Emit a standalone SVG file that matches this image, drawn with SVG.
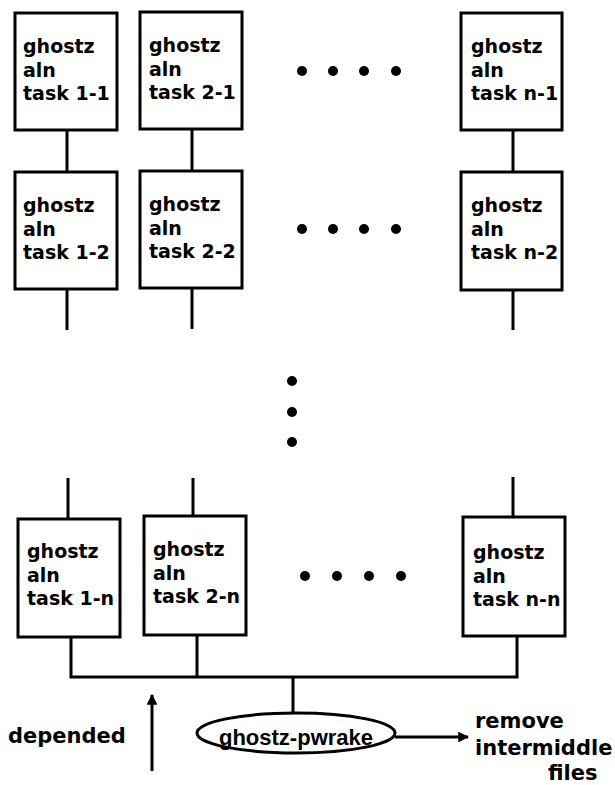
<svg xmlns="http://www.w3.org/2000/svg" width="615" height="785" viewBox="0 0 615 785">
  <style>
    .box { fill: #fff; stroke: #000; stroke-width: 3; }
    .wire { fill: none; stroke: #000; stroke-width: 3; }
    .lbl { font-family: "DejaVu Sans", Verdana, sans-serif; font-weight: bold; font-size: 19px; fill: #000; }
    .big { font-family: "DejaVu Sans", Verdana, sans-serif; font-weight: bold; font-size: 21px; fill: #000; }
    .oval { font-family: "Liberation Sans", Arial, sans-serif; font-weight: bold; font-size: 22px; fill: #000; }
    .dot { fill: #000; }
  </style>
  <defs>
    <marker id="arrow" viewBox="0 0 10 10" refX="9" refY="5" markerWidth="3.6" markerHeight="3.6" orient="auto" markerUnits="strokeWidth">
      <path d="M0,0 L10,5 L0,10 z" fill="#000"/>
    </marker>
  </defs>

  <!-- connectors -->
  <g id="connectors">
    <!-- row 1 to row 2 -->
    <line class="wire" x1="67" y1="130" x2="67" y2="172"/>
    <line class="wire" x1="192" y1="129" x2="192" y2="171"/>
    <line class="wire" x1="513" y1="130" x2="513" y2="171"/>
    <!-- row 2 stubs down -->
    <line class="wire" x1="67" y1="289" x2="67" y2="330"/>
    <line class="wire" x1="192" y1="288" x2="192" y2="329"/>
    <line class="wire" x1="513" y1="290" x2="513" y2="330"/>
    <!-- stubs into last row -->
    <line class="wire" x1="68" y1="478" x2="68" y2="519"/>
    <line class="wire" x1="193" y1="478" x2="193" y2="516"/>
    <line class="wire" x1="513" y1="477" x2="513" y2="517"/>
    <!-- last row to bus -->
    <path class="wire" d="M71,637 V677 H517 V636"/>
    <line class="wire" x1="197" y1="635" x2="197" y2="677"/>
    <line class="wire" x1="293" y1="677" x2="293" y2="713"/>
    <!-- output arrow -->
    <line class="wire" x1="395" y1="737" x2="468" y2="737" stroke-width="2.5" marker-end="url(#arrow)"/>
    <!-- dependency direction arrow -->
    <line class="wire" x1="152" y1="771" x2="152" y2="695" stroke-width="2.5" marker-end="url(#arrow)"/>
  </g>

  <!-- row 1 -->
  <g id="task-1-1">
    <rect class="box" x="15" y="13" width="102" height="117"/>
    <text class="lbl" x="23" y="53">ghostz</text>
    <text class="lbl" x="23" y="77">aln</text>
    <text class="lbl" x="23" y="100">task 1-1</text>
  </g>
  <g id="task-2-1">
    <rect class="box" x="140" y="12" width="102" height="117"/>
    <text class="lbl" x="149" y="52">ghostz</text>
    <text class="lbl" x="149" y="76">aln</text>
    <text class="lbl" x="149" y="99">task 2-1</text>
  </g>
  <g id="task-n-1">
    <rect class="box" x="461" y="13" width="101" height="117"/>
    <text class="lbl" x="471" y="53">ghostz</text>
    <text class="lbl" x="471" y="77">aln</text>
    <text class="lbl" x="471" y="100">task n-1</text>
  </g>
  <g id="dots-row-1">
    <circle class="dot" cx="302" cy="71" r="5"/>
    <circle class="dot" cx="333" cy="71" r="5"/>
    <circle class="dot" cx="364" cy="71" r="5"/>
    <circle class="dot" cx="396" cy="71" r="5"/>
  </g>

  <!-- row 2 -->
  <g id="task-1-2">
    <rect class="box" x="15" y="172" width="102" height="117"/>
    <text class="lbl" x="23" y="212">ghostz</text>
    <text class="lbl" x="23" y="236">aln</text>
    <text class="lbl" x="23" y="259">task 1-2</text>
  </g>
  <g id="task-2-2">
    <rect class="box" x="140" y="171" width="102" height="117"/>
    <text class="lbl" x="149" y="211">ghostz</text>
    <text class="lbl" x="149" y="235">aln</text>
    <text class="lbl" x="149" y="258">task 2-2</text>
  </g>
  <g id="task-n-2">
    <rect class="box" x="461" y="172" width="101" height="118"/>
    <text class="lbl" x="471" y="212">ghostz</text>
    <text class="lbl" x="471" y="236">aln</text>
    <text class="lbl" x="471" y="259">task n-2</text>
  </g>
  <g id="dots-row-2">
    <circle class="dot" cx="302" cy="229" r="5"/>
    <circle class="dot" cx="333" cy="229" r="5"/>
    <circle class="dot" cx="364" cy="229" r="5"/>
    <circle class="dot" cx="396" cy="229" r="5"/>
  </g>

  <!-- vertical ellipsis -->
  <g id="dots-vertical">
    <circle class="dot" cx="292" cy="381" r="5"/>
    <circle class="dot" cx="292" cy="412" r="5"/>
    <circle class="dot" cx="292" cy="442" r="5"/>
  </g>

  <!-- last row -->
  <g id="task-1-n">
    <rect class="box" x="18" y="519" width="102" height="118"/>
    <text class="lbl" x="27" y="558">ghostz</text>
    <text class="lbl" x="27" y="582">aln</text>
    <text class="lbl" x="27" y="605">task 1-n</text>
  </g>
  <g id="task-2-n">
    <rect class="box" x="144" y="516" width="102" height="119"/>
    <text class="lbl" x="153" y="556">ghostz</text>
    <text class="lbl" x="153" y="580">aln</text>
    <text class="lbl" x="153" y="603">task 2-n</text>
  </g>
  <g id="task-n-n">
    <rect class="box" x="463" y="517" width="102" height="119"/>
    <text class="lbl" x="473" y="559">ghostz</text>
    <text class="lbl" x="473" y="583">aln</text>
    <text class="lbl" x="473" y="606">task n-n</text>
  </g>
  <g id="dots-row-n">
    <circle class="dot" cx="305" cy="576" r="5"/>
    <circle class="dot" cx="337" cy="576" r="5"/>
    <circle class="dot" cx="369" cy="576" r="5"/>
    <circle class="dot" cx="401" cy="576" r="5"/>
  </g>

  <!-- final job -->
  <g id="ghostz-pwrake">
    <ellipse class="box" cx="296" cy="733" rx="99" ry="20"/>
    <text class="oval" x="296" y="745" text-anchor="middle">ghostz-pwrake</text>
  </g>
  <g id="remove-note">
    <text class="big" x="475" y="728">remove</text>
    <text class="big" x="475" y="755">intermiddle</text>
    <text class="big" x="548" y="780">files</text>
  </g>
  <g id="depended-label">
    <text class="big" x="8" y="743">depended</text>
  </g>
</svg>
